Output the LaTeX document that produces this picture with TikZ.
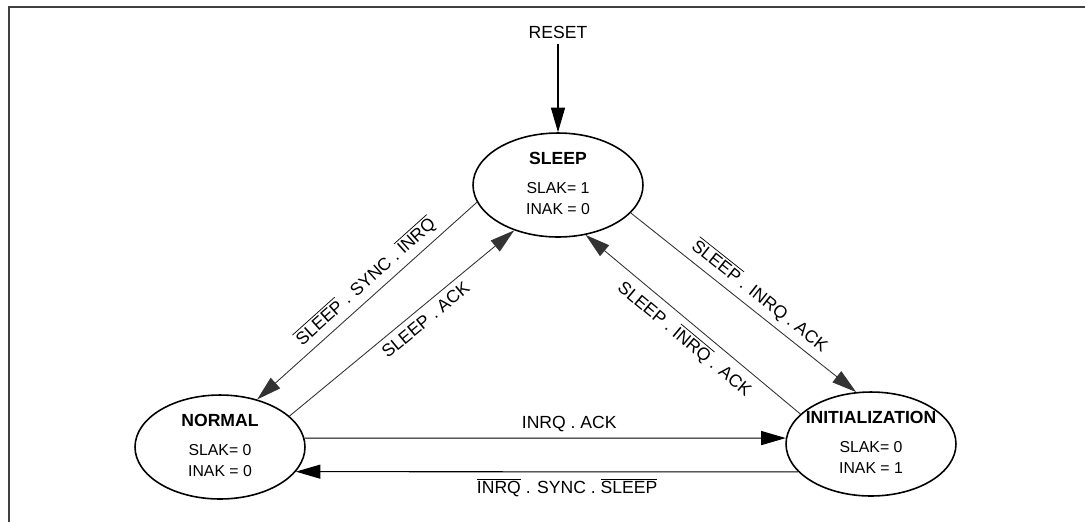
\documentclass[tikz,border=0pt]{standalone}
\usepackage{fontspec}
\setmainfont{Liberation Sans}
\usetikzlibrary{arrows.meta,positioning,shapes.geometric}

\newcommand{\notsig}[1]{$\overline{\mbox{#1}}$}
\newcommand{\statetext}[3]{\makebox[0pt]{\begin{tabular}{@{}c@{}}\textbf{#1}\\[4.5pt]
    \fontsize{9}{11}\selectfont #2\\ \fontsize{9}{11}\selectfont #3\end{tabular}}}

\begin{document}
\begin{tikzpicture}[
        x=0.02cm, y=-0.02cm,
        >={Triangle[length=14pt,width=8pt]},
        font=\fontsize{10}{12}\selectfont,
        state/.style={
            draw,
            ellipse,
            line width=0.9pt,
            minimum width=3.4cm,
            minimum height=2.08cm,
            inner sep=0pt
        },
        link/.style={->, line width=0.5pt, draw=black!80},
        hlink/.style={->, line width=0.6pt}
    ]
        \useasboundingbox (0,0) rectangle (1085,522);
        \draw[line width=1.1pt, black!75] (9,522) -- (9,7) -- (1085,7);

        \node[state] (sleep) at (558,185) {\statetext{SLEEP}{SLAK= 1}{INAK = 0}};
        \node[state] (normal) at (220,447) {\statetext{NORMAL}{SLAK= 0}{INAK = 0}};
        \node[state] (init) at (871,444) {\statetext{INITIALIZATION}{SLAK= 0}{INAK = 1}};
        \node (reset) at (558,32) {RESET};

        \draw[hlink] (reset) -- (sleep);
        \draw[link] (sleep.192) -- node[pos=0.46, above, sloped]{\notsig{SLEEP} . SYNC . \notsig{INRQ}} (normal.52);
        \draw[link] (normal.24) -- node[pos=0.57, below, sloped]{SLEEP . ACK} (sleep.226);
        \draw[link] (sleep.339) -- node[pos=0.53, above, sloped]{\notsig{SLEEP} . INRQ . ACK} (init.106);
        \draw[link] (init.157) -- node[pos=0.49, below, sloped]{SLEEP . \notsig{INRQ} . ACK} (sleep.299);
        \draw[hlink] (normal.6) -- node[pos=0.55, above]{INRQ . ACK} (init.176);
        \draw[hlink] (init.201) -- node[pos=0.46, below]{\notsig{INRQ} . SYNC . \notsig{SLEEP}} (normal.342);
    \end{tikzpicture}
\end{document}
